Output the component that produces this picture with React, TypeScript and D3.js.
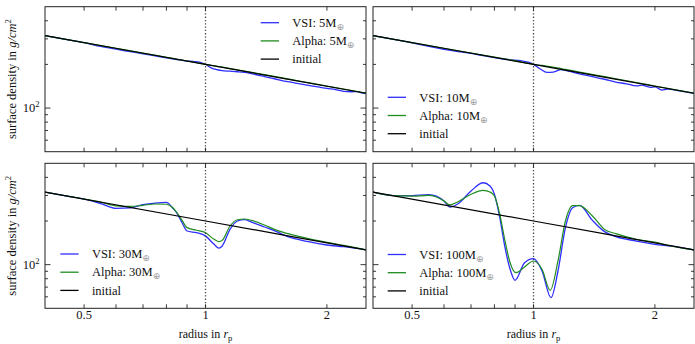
import React from 'react';
import * as d3 from 'd3';

// ---------- data ----------
const xDomain = [0.4, 2.5];
const yDomain = [50, 500];
const xTickMajor = [0.5, 1, 2];
const xTickLabels = ['0.5', '1', '2'];
const xTickMinor = [0.6, 0.7, 0.8, 0.9];
const yTickMajor = [100];
const yTickMinor = [60, 70, 80, 90, 200, 300, 400];
const planetRadius = 1;

const initR = [0.4, 1, 2.5];
const initS = [316.2, 200, 126.5];

const masses = ['5', '10', '30', '100'];

const vsi5R = [0.4, 0.45, 0.5, 0.55, 0.6, 0.65, 0.7, 0.75, 0.8, 0.85, 0.9, 0.93, 0.97, 1.0, 1.03, 1.06, 1.1, 1.15, 1.2, 1.25, 1.3, 1.4, 1.5, 1.6, 1.7, 1.8, 1.9, 2.0, 2.1, 2.2, 2.3, 2.38, 2.45, 2.5];
const vsi5S = [316, 298, 282.5, 266, 254.5, 245, 236.5, 229, 222, 216, 211, 209.5, 206.5, 200.5, 190, 184.5, 181, 179.5, 178, 176, 172.5, 165, 158, 152, 147.5, 143.5, 140, 136.5, 134, 130.5, 129.5, 130, 127, 126.5];
const alpha5R = [0.4, 0.5, 0.6, 0.7, 0.8, 0.9, 1.0, 1.1, 1.2, 1.4, 1.6, 1.8, 2.0, 2.2, 2.5];
const alpha5S = [316.2, 282.8, 258.4, 239.3, 223.8, 211, 200.3, 191.6, 183.6, 170, 158.8, 149.7, 142, 135.3, 126.6];

const vsi10R = [0.4, 0.45, 0.5, 0.55, 0.6, 0.65, 0.7, 0.75, 0.8, 0.85, 0.88, 0.93, 0.97, 1.0, 1.04, 1.08, 1.12, 1.17, 1.22, 1.3, 1.4, 1.5, 1.6, 1.7, 1.8, 1.85, 1.95, 2.0, 2.08, 2.15, 2.3, 2.5];
const vsi10S = [316, 298, 282, 266, 254, 245, 238, 230, 223, 217, 215, 212, 207, 200, 186, 176, 177, 184, 180, 172, 165, 158, 151, 147, 142, 144, 139, 140, 133, 135, 131.5, 126.5];
const alpha10R = [0.4, 0.5, 0.6, 0.7, 0.8, 0.9, 0.95, 1.0, 1.05, 1.1, 1.2, 1.3, 1.5, 1.8, 2.0, 2.2, 2.5];
const alpha10S = [316.2, 282.8, 258.4, 239.8, 224.6, 212.2, 205.8, 200, 196.8, 192.8, 184.6, 177, 164.5, 150, 142, 135.2, 126.6];

const vsi30R = [0.4, 0.45, 0.5, 0.55, 0.6, 0.65, 0.7, 0.75, 0.8, 0.83, 0.85, 0.875, 0.9, 0.95, 1.0, 1.05, 1.08, 1.1, 1.15, 1.2, 1.25, 1.3, 1.4, 1.5, 1.6, 1.8, 2.0, 2.2, 2.5];
const vsi30S = [316, 298, 283, 264, 244.5, 246, 259, 266, 269, 245, 226, 194.6, 170.6, 166, 158, 138, 130, 134.6, 175, 200, 204.5, 196.8, 181.8, 168.8, 156, 144, 136.6, 133, 126.5];
const alpha30R = [0.4, 0.45, 0.5, 0.55, 0.6, 0.65, 0.7, 0.75, 0.8, 0.83, 0.85, 0.875, 0.9, 0.95, 1.0, 1.05, 1.08, 1.1, 1.15, 1.2, 1.25, 1.3, 1.4, 1.5, 1.6, 1.8, 2.0, 2.2, 2.5];
const alpha30S = [316.2, 298.5, 283.5, 270, 254, 252, 256.6, 262, 261, 247, 228, 202, 180, 172.6, 166, 149.6, 144, 147, 184.7, 204, 206.5, 202, 187.7, 173, 163.5, 151, 142.6, 136, 126.6];

const vsi100R = [0.4, 0.45, 0.5, 0.55, 0.6, 0.62, 0.65, 0.7, 0.75, 0.78, 0.8, 0.825, 0.85, 0.875, 0.9, 0.95, 1.0, 1.05, 1.105, 1.15, 1.2, 1.25, 1.3, 1.4, 1.5, 1.6, 1.8, 2.0, 2.2, 2.5];
const vsi100S = [316, 299, 299, 303.6, 274.7, 249.7, 263, 322, 367, 348.7, 305.7, 210.8, 131, 92.9, 78, 103, 110, 90.4, 59.2, 90.4, 180, 247, 256.6, 202, 169, 156, 145.5, 138, 134, 126.5];
const alpha100R = [0.4, 0.45, 0.5, 0.55, 0.6, 0.62, 0.65, 0.7, 0.75, 0.78, 0.8, 0.825, 0.85, 0.875, 0.905, 0.95, 1.0, 1.05, 1.1, 1.15, 1.2, 1.25, 1.3, 1.4, 1.5, 1.6, 1.8, 2.0, 2.2, 2.5];
const alpha100S = [316, 299, 297, 300, 275, 258, 271.7, 305.7, 325.6, 317, 297.4, 222.4, 145.5, 103, 88, 96.4, 106, 93, 66.5, 106, 200, 255, 255, 216.5, 175, 163.5, 149.6, 143, 134, 126.5];

// ---------- layout ----------
const W = 695;
const H = 344;
const FONT = "'Liberation Serif', 'DejaVu Serif', serif";
const BLUE = '#2e2eff';
const GREEN = '#1f8c1f';
const FRAME = '#222';

const series = [
  { vR: vsi5R, vS: vsi5S, aR: alpha5R, aS: alpha5S },
  { vR: vsi10R, vS: vsi10S, aR: alpha10R, aS: alpha10S },
  { vR: vsi30R, vS: vsi30S, aR: alpha30R, aS: alpha30S },
  { vR: vsi100R, vS: vsi100S, aR: alpha100R, aS: alpha100S },
];

const boxes = [
  { x0: 45, x1: 366, y0: 6.7, y1: 151.7, lx: 260.7, ly: 22.7, left: true, bottom: false },
  { x0: 373, x1: 694, y0: 6.7, y1: 151.7, lx: 387.7, ly: 97.3, left: false, bottom: false },
  { x0: 45, x1: 366, y0: 163.3, y1: 308.3, lx: 60.3, ly: 254, left: true, bottom: true },
  { x0: 373, x1: 694, y0: 163.3, y1: 308.3, lx: 387.7, ly: 254.5, left: false, bottom: true },
];

function Panel({ idx }: { idx: number }) {
  const b = boxes[idx];
  const s = series[idx];
  const mass = masses[idx];
  const x = d3.scaleLog().domain(xDomain).range([b.x0, b.x1]);
  const y = d3.scaleLog().domain(yDomain).range([b.y1, b.y0]);
  const mk = (rs: number[], ss: number[]) =>
    d3
      .line<number>()
      .x((_, i) => x(rs[i]))
      .y((v) => y(v))
      .curve(d3.curveMonotoneX)(ss) || '';
  const clipId = `clip${idx}`;
  const majLen = 5.5;
  const minLen = 3;
  const xTickLen = 4;
  const rowGap = 18.2;
  const legendItems = [
    { label: `VSI: ${mass}M`, color: BLUE, sub: true },
    { label: `Alpha: ${mass}M`, color: GREEN, sub: true },
    { label: 'initial', color: '#000', sub: false },
  ];
  const xc = (b.x0 + b.x1) / 2;
  const yc = (b.y0 + b.y1) / 2;
  return (
    <g>
      <defs>
        <clipPath id={clipId}>
          <rect x={b.x0} y={b.y0} width={b.x1 - b.x0} height={b.y1 - b.y0} />
        </clipPath>
      </defs>
      <g clipPath={`url(#${clipId})`} fill="none" strokeLinejoin="round">
        <path d={mk(s.vR, s.vS)} stroke={BLUE} strokeWidth={1.3} />
        <path d={mk(s.aR, s.aS)} stroke={GREEN} strokeWidth={1.2} />
        <path d={mk(initR, initS)} stroke="#000" strokeWidth={1.2} />
      </g>
      <line
        x1={x(planetRadius)}
        x2={x(planetRadius)}
        y1={b.y0}
        y2={b.y1}
        stroke="#444"
        strokeWidth={1.3}
        strokeDasharray="1.3,2"
      />
      <rect x={b.x0} y={b.y0} width={b.x1 - b.x0} height={b.y1 - b.y0} fill="none" stroke={FRAME} strokeWidth={1} />
      {/* x ticks */}
      {[...xTickMajor, ...xTickMinor].map((t, i) => (
        <g key={'xt' + i} stroke={FRAME} strokeWidth={0.9}>
          <line x1={x(t)} x2={x(t)} y1={b.y0} y2={b.y0 + xTickLen} />
          <line x1={x(t)} x2={x(t)} y1={b.y1} y2={b.y1 - xTickLen} />
        </g>
      ))}
      {/* y ticks */}
      {yTickMajor.map((t, i) => (
        <g key={'ytM' + i} stroke={FRAME} strokeWidth={0.9}>
          <line x1={b.x0} x2={b.x0 + majLen} y1={y(t)} y2={y(t)} />
          <line x1={b.x1} x2={b.x1 - majLen} y1={y(t)} y2={y(t)} />
        </g>
      ))}
      {yTickMinor.map((t, i) => (
        <g key={'ytm' + i} stroke={FRAME} strokeWidth={0.9}>
          <line x1={b.x0} x2={b.x0 + minLen} y1={y(t)} y2={y(t)} />
          <line x1={b.x1} x2={b.x1 - minLen} y1={y(t)} y2={y(t)} />
        </g>
      ))}
      {b.bottom &&
        xTickMajor.map((t, i) => (
          <text key={'xl' + i} x={x(t)} y={b.y1 + 11} textAnchor="middle" fontSize={12.5} fill="#111">
            {xTickLabels[i]}
          </text>
        ))}
      {b.bottom && (
        <text x={xc} y={338} textAnchor="middle" fontSize={12} fill="#111">
          radius in <tspan fontStyle="italic">r</tspan>
          <tspan fontSize={8.5} dy={2.5}>p</tspan>
        </text>
      )}
      {b.left &&
        yTickMajor.map((t, i) => (
          <text key={'yl' + i} x={39.5} y={y(t) + 4.3} textAnchor="end" fontSize={12.5} fill="#111">
            10<tspan fontSize={8.5} dy={-5}>2</tspan>
          </text>
        ))}
      {b.left && (
        <text
          transform={`translate(16,${yc}) rotate(-90)`}
          textAnchor="middle"
          fontSize={12.5}
          fill="#111"
        >
          surface density in <tspan fontStyle="italic">g/cm</tspan>
          <tspan fontSize={8.5} dy={-5}>2</tspan>
        </text>
      )}
      {/* legend */}
      {legendItems.map((it, i) => (
        <g key={'lg' + i}>
          <line
            x1={b.lx}
            x2={b.lx + 18.3}
            y1={b.ly + i * rowGap}
            y2={b.ly + i * rowGap}
            stroke={it.color}
            strokeWidth={1.3}
          />
          <text x={b.lx + 31.6} y={b.ly + i * rowGap + 4.2} fontSize={12.5} fill="#111">
            {it.label}
            {it.sub && (
              <tspan fontSize={9} dy={3} fill="#9a9a9a" fontFamily="'DejaVu Sans', sans-serif">
                ⊕
              </tspan>
            )}
          </text>
        </g>
      ))}
    </g>
  );
}

export default function App() {
  return (
    <svg
      width={W}
      height={H}
      viewBox={`0 0 ${W} ${H}`}
      style={{ position: 'absolute', left: 0, top: 0, background: '#fff' }}
      fontFamily={FONT}
    >
      <rect x={0} y={0} width={W} height={H} fill="#fff" />
      {boxes.map((_, i) => (
        <Panel key={i} idx={i} />
      ))}
    </svg>
  );
}
